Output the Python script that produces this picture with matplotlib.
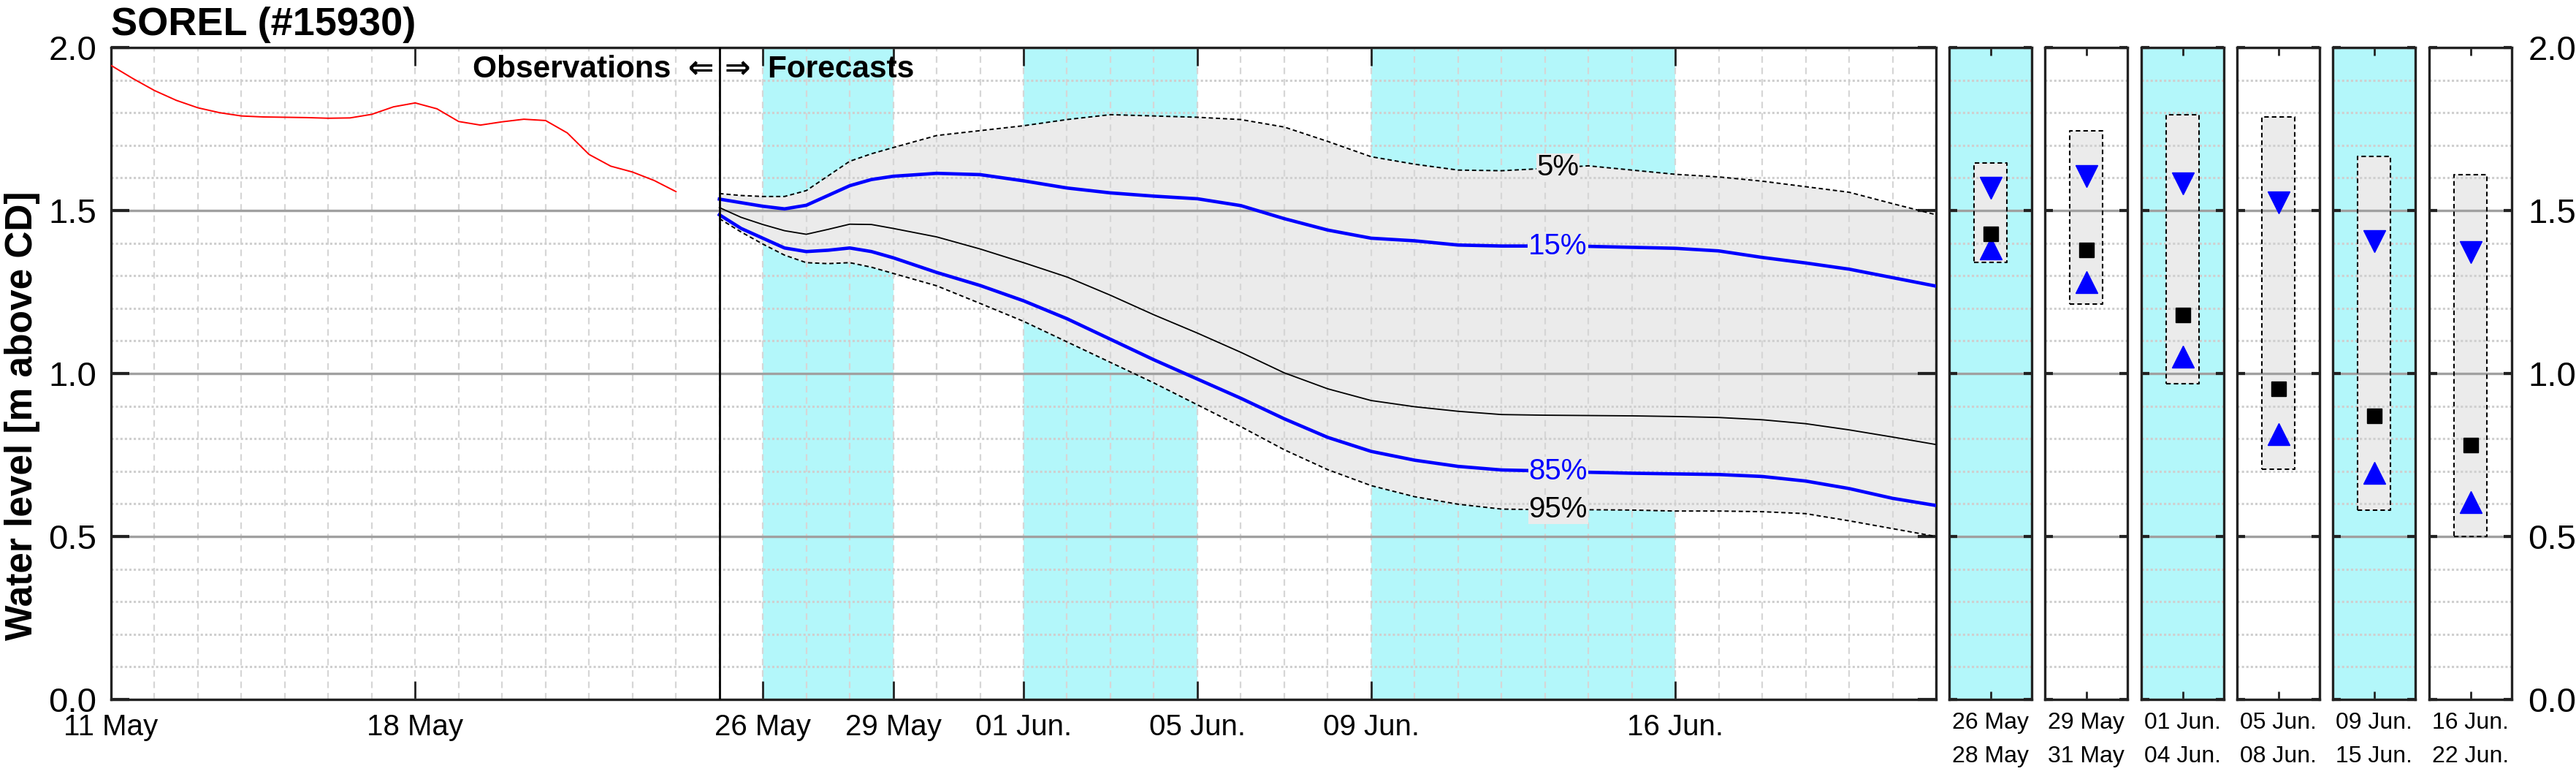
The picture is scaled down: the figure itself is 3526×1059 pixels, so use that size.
import numpy as np
import matplotlib
matplotlib.use('Agg')
import matplotlib.pyplot as plt
import matplotlib.dates as mdates
from matplotlib.ticker import MultipleLocator, FixedLocator, FormatStrFormatter

plt.rcParams['font.family'] = ['Liberation Sans', 'DejaVu Sans']

# ---- data (days counted from 11 May) ----
start = np.datetime64('2023-05-11T00:00')

obs_days = [0, 0.5, 1, 1.5, 2, 2.5, 3, 3.5, 4, 4.5, 5, 5.5, 6, 6.5, 7, 7.5,
            8, 8.5, 9, 9.5, 10, 10.5, 11, 11.5, 12, 12.5, 13]
obs_level = [1.945, 1.905, 1.868, 1.838, 1.815, 1.800, 1.790, 1.787, 1.786, 1.785,
             1.783, 1.784, 1.795, 1.818, 1.830, 1.812, 1.773, 1.762, 1.772, 1.780,
             1.776, 1.738, 1.672, 1.636, 1.618, 1.592, 1.558]

fc_days = [14, 14.5, 15, 15.5, 16, 16.5, 17, 17.5, 18, 19, 20, 21, 22, 23, 24, 25,
           26, 27, 28, 29, 30, 31, 32, 33, 34, 35, 36, 37, 38, 39, 40, 41, 42]
q05 = [1.552, 1.546, 1.543, 1.543, 1.561, 1.606, 1.651, 1.674, 1.693, 1.730, 1.745,
       1.760, 1.779, 1.794, 1.790, 1.786, 1.779, 1.756, 1.712, 1.665, 1.642, 1.624,
       1.622, 1.629, 1.637, 1.624, 1.611, 1.603, 1.590, 1.573, 1.556, 1.521, 1.487]
q15 = [1.535, 1.524, 1.513, 1.505, 1.516, 1.546, 1.576, 1.595, 1.605, 1.614, 1.610,
       1.591, 1.569, 1.554, 1.544, 1.536, 1.515, 1.475, 1.440, 1.415, 1.407, 1.394,
       1.391, 1.391, 1.390, 1.387, 1.384, 1.376, 1.356, 1.339, 1.320, 1.294, 1.268]
q50 = [1.509, 1.479, 1.457, 1.438, 1.427, 1.442, 1.458, 1.457, 1.445, 1.419, 1.382,
       1.340, 1.296, 1.240, 1.180, 1.124, 1.065, 1.002, 0.953, 0.917, 0.898, 0.884,
       0.874, 0.872, 0.871, 0.870, 0.868, 0.865, 0.858, 0.846, 0.827, 0.805, 0.782]
q85 = [1.487, 1.445, 1.415, 1.385, 1.374, 1.378, 1.385, 1.374, 1.355, 1.310, 1.270,
       1.223, 1.168, 1.105, 1.042, 0.983, 0.924, 0.861, 0.804, 0.761, 0.734, 0.715,
       0.704, 0.701, 0.697, 0.694, 0.692, 0.690, 0.684, 0.670, 0.647, 0.617, 0.595]
q95 = [1.475, 1.434, 1.397, 1.363, 1.340, 1.337, 1.340, 1.326, 1.307, 1.269, 1.215,
       1.160, 1.097, 1.034, 0.971, 0.904, 0.837, 0.766, 0.705, 0.656, 0.622, 0.599,
       0.584, 0.582, 0.582, 0.581, 0.578, 0.578, 0.576, 0.570, 0.548, 0.524, 0.500]

tick_days = [0, 7, 15, 18, 21, 25, 29, 36]
tick_labels = ['11 May', '18 May', '26 May', '29 May', '01 Jun.', '05 Jun.', '09 Jun.', '16 Jun.']

# forecast periods (start day, end day), cyan every other one
period_start = [15, 18, 21, 25, 29, 36]
period_end = [18, 21, 25, 29, 36, 43]
period_label_1 = ['26 May', '29 May', '01 Jun.', '05 Jun.', '09 Jun.', '16 Jun.']
period_label_2 = ['28 May', '31 May', '04 Jun.', '08 Jun.', '15 Jun.', '22 Jun.']
period_top = [1.645, 1.744, 1.794, 1.786, 1.665, 1.610]
period_bottom = [1.341, 1.213, 0.968, 0.706, 0.580, 0.500]
period_q15 = [1.570, 1.605, 1.583, 1.524, 1.405, 1.373]
period_median = [1.428, 1.380, 1.180, 0.954, 0.870, 0.781]
period_q85 = [1.383, 1.281, 1.052, 0.814, 0.694, 0.606]


def to_date(days):
    return mdates.date2num(start + (np.asarray(days) * 24 * 60).astype('timedelta64[m]'))


CYAN = '#b3f7fa'
BAND = '#ebebeb'
SPINE = '#222222'

W, H = 3526, 1059
fig = plt.figure(figsize=(W / 100, H / 100), dpi=100)
y0, y1 = 65, 957
fb, fh = 1 - y1 / H, (y1 - y0) / H


def style_axis(ax):
    for s in ax.spines.values():
        s.set_linewidth(2.4)
        s.set_color(SPINE)
    ax.set_ylim(0, 2.0)
    ax.yaxis.set_major_locator(MultipleLocator(0.5))
    ax.yaxis.set_minor_locator(MultipleLocator(0.1))
    ax.yaxis.set_major_formatter(FormatStrFormatter('%.1f'))
    ax.yaxis.grid(True, which='minor', ls=(0, (1, 1)), color='#cfcfcf', lw=2.2)
    ax.yaxis.grid(True, which='major', ls='-', color='#a0a0a0', lw=2.4)
    ax.set_axisbelow(True)


# ---- main axis ----
ax = fig.add_axes([152 / W, fb, (2650 - 152) / W, fh])
style_axis(ax)
ax.set_xlim(to_date(0), to_date(42))

for i in (0, 2, 4):
    ax.axvspan(to_date(period_start[i]), to_date(period_end[i]), color=CYAN, lw=0, zorder=0)

xf = to_date(fc_days)
ax.fill_between(xf, q95, q05, color=BAND, lw=0, zorder=0.2)
ax.plot(xf, q05, color='black', ls=(0, (3, 2)), lw=1.4, zorder=3)
ax.plot(xf, q95, color='black', ls=(0, (3, 2)), lw=1.4, zorder=3)
ax.plot(xf, q15, color='#0000ff', lw=3.3, zorder=3)
ax.plot(xf, q85, color='#0000ff', lw=3.3, zorder=3)
ax.plot(xf, q50, color='black', lw=1.3, zorder=3)
ax.plot(to_date(obs_days), obs_level, color='#ff0000', lw=1.4, zorder=3)

ax.axvline(to_date(14), color='black', lw=2, zorder=4)

# percentile labels on the curves
lab_x = to_date(33.3)
for vals, txt, col in [(q05, '5%', 'black'), (q15, '15%', '#0000ff'),
                       (q85, '85%', '#0000ff'), (q95, '95%', 'black')]:
    ax.text(lab_x, np.interp(33.3, fc_days, vals), txt, color=col, fontsize=29,
            ha='center', va='center', zorder=5,
            bbox=dict(facecolor=BAND, edgecolor='none', pad=0.5))

ax.text(to_date(13.87), 1.978, 'Observations  \u21d0', ha='right', va='top',
        fontsize=30.5, fontweight='bold', zorder=5)
ax.text(to_date(14.12), 1.978, '\u21d2  Forecasts', ha='left', va='top',
        fontsize=30.5, fontweight='bold', zorder=5)

ax.xaxis.set_major_locator(FixedLocator(to_date(tick_days)))
ax.set_xticklabels(tick_labels)
ax.xaxis.set_minor_locator(FixedLocator(to_date(np.arange(0, 43))))
ax.xaxis.grid(True, which='both', ls=(0, (4, 3)), color='#d6d6d6', lw=1.6)
ax.tick_params(axis='x', which='major', direction='in', length=18, width=2,
               top=True, bottom=True, labelsize=29, pad=14, color=SPINE)
ax.tick_params(axis='x', which='minor', length=0)
ax.tick_params(axis='y', which='major', direction='in', length=18, width=3,
               left=True, right=True, labelsize=34, pad=14, color=SPINE)
ax.tick_params(axis='y', which='minor', length=0)
ax.set_ylabel('Water level [m above CD]', fontsize=37, fontweight='bold')
ax.yaxis.set_label_coords(-0.039, 0.435)
ax.set_title('SOREL (#15930)', loc='left', fontsize=39, fontweight='bold', pad=12)

# ---- period panels ----
panel_left = [2668, 2799, 2931, 3062, 3193, 3325]
for i, px in enumerate(panel_left):
    pa = fig.add_axes([px / W, fb, 113 / W, fh])
    style_axis(pa)
    pa.set_xlim(0, 1)
    if i % 2 == 0:
        pa.set_facecolor(CYAN)
    pa.fill_between([0.3, 0.7], period_bottom[i], period_top[i], color=BAND, lw=0, zorder=0.2)
    pa.plot([0.3, 0.7, 0.7, 0.3, 0.3],
            [period_bottom[i], period_bottom[i], period_top[i], period_top[i], period_bottom[i]],
            color='black', ls=(0, (3, 2)), lw=1.5, zorder=3)
    pa.plot([0.5], [period_q15[i]], marker='v', ms=21, color='#0000ff', ls='none', zorder=4)
    pa.plot([0.5], [period_q85[i]], marker='^', ms=21, color='#0000ff', ls='none', zorder=4)
    pa.plot([0.5], [period_median[i]], marker='s', ms=15, color='black', ls='none', zorder=4)
    pa.set_xticks([0.5])
    pa.set_xticklabels([period_label_1[i] + '\n' + period_label_2[i]], linespacing=1.7)
    pa.tick_params(axis='x', direction='in', length=8, width=2, top=True, bottom=True,
                   labelsize=23, pad=12, color=SPINE)
    pa.tick_params(axis='y', which='major', direction='in', length=8, width=3,
                   left=True, right=True, labelleft=False, color=SPINE)
    pa.tick_params(axis='y', which='minor', length=0)
    if i == len(panel_left) - 1:
        pa.tick_params(axis='y', labelright=True, labelsize=34, pad=16)

fig.savefig('out.png', dpi=100)
